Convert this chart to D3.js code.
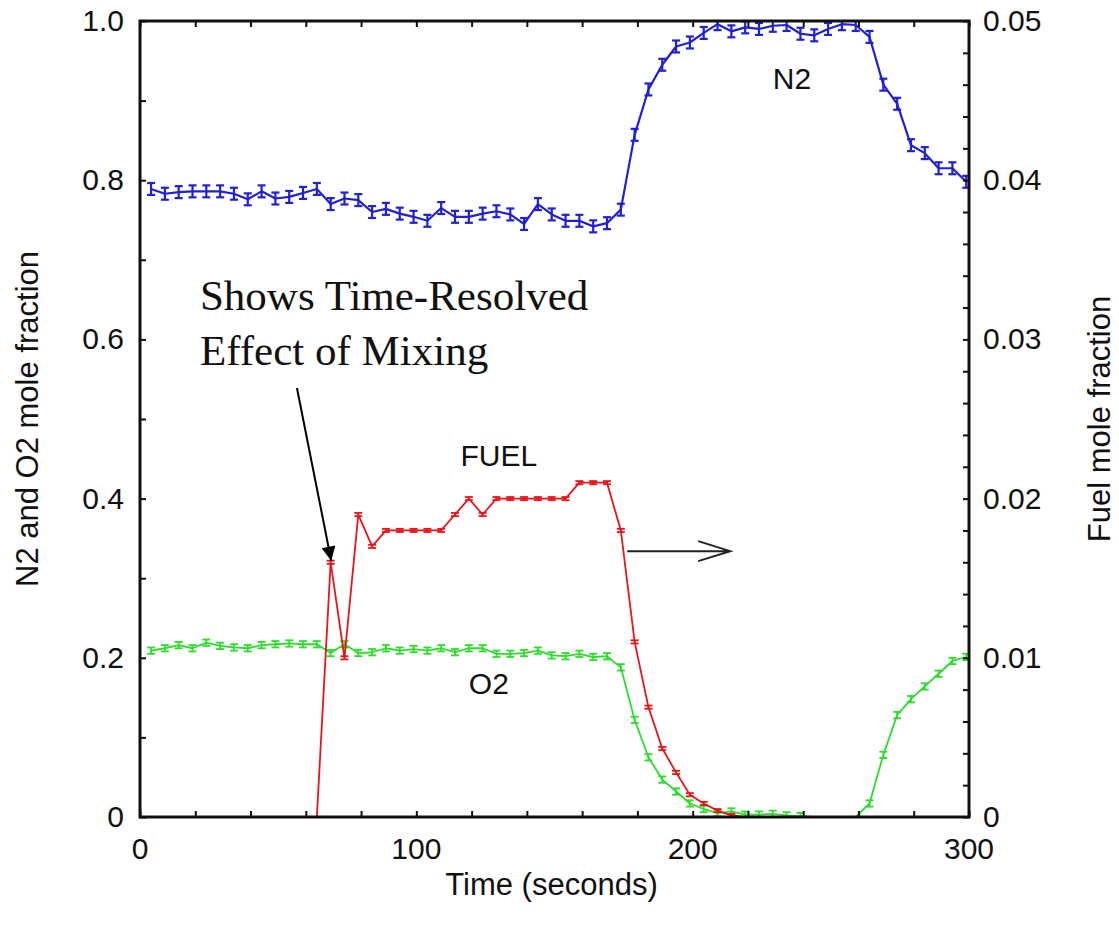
<!DOCTYPE html>
<html>
<head>
<meta charset="utf-8">
<script src="https://cdnjs.cloudflare.com/ajax/libs/d3/7.8.5/d3.min.js"></script>
<style>
    body { margin: 0; background: #fff; }
    svg text { font-family: "Liberation Sans", Arial, sans-serif; fill: #111; }
    .note { font-family: "Liberation Serif", "Times New Roman", serif; }
</style>
</head>
<body>
<svg id="chart" width="1119" height="927"></svg>
<script>
// time of each sample (seconds)
var times = [4, 9, 14, 19, 24, 29, 34, 39, 44, 49, 54, 59, 64, 69, 74, 79, 84, 89, 94, 99,
    104, 109, 114, 119, 124, 129, 134, 139, 144, 149, 154, 159, 164, 169, 174, 179, 184, 189, 194, 199,
    204, 209, 214, 219, 224, 229, 234, 239, 244, 249, 254, 259, 264, 269, 274, 279, 284, 289, 294, 299];

// N2 mole fraction (left axis)
var n2 = [0.789, 0.783, 0.785, 0.786, 0.786, 0.786, 0.783, 0.776, 0.786, 0.777,
    0.779, 0.784, 0.789, 0.770, 0.777, 0.775, 0.760, 0.764, 0.758, 0.754,
    0.749, 0.765, 0.754, 0.754, 0.758, 0.761, 0.757, 0.745, 0.770, 0.757,
    0.749, 0.749, 0.742, 0.746, 0.763, 0.857, 0.914, 0.945, 0.968, 0.973,
    0.985, 0.996, 0.987, 0.992, 0.990, 0.994, 0.995, 0.984, 0.982, 0.990,
    0.996, 0.995, 0.980, 0.920, 0.896, 0.844, 0.834, 0.815, 0.815, 0.798];

// O2 mole fraction (left axis)
var o2 = [0.209, 0.212, 0.216, 0.212, 0.219, 0.215, 0.213, 0.212, 0.216, 0.217,
    0.218, 0.217, 0.217, 0.206, 0.217, 0.206, 0.207, 0.212, 0.209, 0.211,
    0.209, 0.212, 0.207, 0.212, 0.212, 0.205, 0.205, 0.206, 0.209, 0.203,
    0.202, 0.205, 0.201, 0.202, 0.188, 0.122, 0.075, 0.047, 0.032, 0.017,
    0.010, 0.005, 0.007, 0.003, 0.003, 0.004, 0.002, 0.001, 0, 0,
    0, 0, 0.017, 0.078, 0.128, 0.148, 0.164, 0.180, 0.196, 0.201];

// fuel mole fraction (right axis), null where not plotted
var fuel = [null, null, null, null, null, null, null, null, null, null,
    null, null, 0, 0.016, 0.010, 0.019, 0.017, 0.018, 0.018, 0.018,
    0.018, 0.018, 0.019, 0.020, 0.019, 0.020, 0.020, 0.020, 0.020, 0.020,
    0.020, 0.021, 0.021, 0.021, 0.018, 0.011, 0.0069, 0.0043, 0.0028, 0.0014,
    0.00085, 0.0004, 0.0001, 0, null, null, null, null, null, null,
    null, null, null, null, null, null, null, null, null, null];

// half height of the error bars
var n2Err = 0.0075, o2Err = 0.004, fuelErr = 0.0001;

var xTicks = [0, 100, 200, 300];
var leftTicks = [0, 0.2, 0.4, 0.6, 0.8, 1.0];
var rightTicks = [0, 0.01, 0.02, 0.03, 0.04, 0.05];

var svg = d3.select("#chart");
var box = {left: 140, right: 969, top: 21, bottom: 817};

var x = d3.scaleLinear().domain([0, 300]).range([box.left, box.right]);
var yL = d3.scaleLinear().domain([0, 1]).range([box.bottom, box.top]);
var yR = d3.scaleLinear().domain([0, 0.05]).range([box.bottom, box.top]);

var defs = svg.append("defs");
defs.append("clipPath").attr("id", "plotClip")
    .append("rect")
    .attr("x", box.left).attr("y", box.top)
    .attr("width", box.right - box.left).attr("height", box.bottom - box.top);

var plot = svg.append("g").attr("clip-path", "url(#plotClip)");

function drawSeries(values, yScale, err, color, width, capW) {
    var pts = times.map(function(t, i) { return {t: t, v: values[i]}; })
        .filter(function(d) { return d.v != null; });

    var line = d3.line()
        .x(function(d) { return x(d.t); })
        .y(function(d) { return yScale(d.v); });

    plot.append("path").datum(pts)
        .attr("d", line)
        .attr("fill", "none")
        .attr("stroke", color)
        .attr("stroke-width", width)
        .attr("stroke-linejoin", "round");

    // I-beam error bars (points sitting on zero are hidden by the axis)
    var bars = plot.append("g").attr("stroke", color).attr("stroke-width", width)
        .selectAll("g").data(pts.filter(function(d) { return d.v > 0; })).enter().append("g");
    bars.append("line")
        .attr("x1", function(d) { return x(d.t); }).attr("x2", function(d) { return x(d.t); })
        .attr("y1", function(d) { return yScale(d.v - err); })
        .attr("y2", function(d) { return yScale(d.v + err); });
    [-err, err].forEach(function(e) {
        bars.append("line")
            .attr("x1", function(d) { return x(d.t) - capW / 2; })
            .attr("x2", function(d) { return x(d.t) + capW / 2; })
            .attr("y1", function(d) { return yScale(d.v + e); })
            .attr("y2", function(d) { return yScale(d.v + e); });
    });
}

drawSeries(o2, yL, o2Err, "#2ddc2d", 1.8, 8);
drawSeries(fuel, yR, fuelErr, "#e8161c", 1.8, 8);
drawSeries(n2, yL, n2Err, "#2020d8", 2.2, 8);

// axes with inward ticks
function tickFmt(d, digits) { return d === 0 ? "0" : d3.format("." + digits + "f")(d); }

svg.append("g").attr("transform", "translate(0," + box.bottom + ")")
    .call(d3.axisBottom(x).tickValues(d3.range(0, 301, 20)).tickSize(-6).tickFormat(""));
svg.append("g").attr("transform", "translate(0," + box.top + ")")
    .call(d3.axisTop(x).tickValues(d3.range(0, 301, 20)).tickSize(-6).tickFormat(""));
svg.append("g").attr("transform", "translate(" + box.left + ",0)")
    .call(d3.axisLeft(yL).tickValues(d3.range(0, 1.01, 0.1)).tickSize(-6).tickFormat(""));
svg.append("g").attr("transform", "translate(" + box.right + ",0)")
    .call(d3.axisRight(yR).tickValues(d3.range(0, 0.0501, 0.002)).tickSize(-6).tickFormat(""));

svg.selectAll(".domain").remove();
svg.selectAll(".tick line").attr("stroke", "#111").attr("stroke-width", 2);

svg.append("rect")
    .attr("x", box.left).attr("y", box.top)
    .attr("width", box.right - box.left).attr("height", box.bottom - box.top)
    .attr("fill", "none").attr("stroke", "#111").attr("stroke-width", 3);

svg.selectAll(".xlab").data(xTicks).enter().append("text")
    .attr("x", function(d) { return x(d); }).attr("y", box.bottom + 42)
    .attr("text-anchor", "middle").attr("font-size", 30)
    .text(function(d) { return d; });

svg.selectAll(".ylab").data(leftTicks).enter().append("text")
    .attr("x", box.left - 16).attr("y", function(d) { return yL(d) + 10; })
    .attr("text-anchor", "end").attr("font-size", 30)
    .text(function(d) { return tickFmt(d, 1); });

svg.selectAll(".rlab").data(rightTicks).enter().append("text")
    .attr("x", box.right + 14).attr("y", function(d) { return yR(d) + 10; })
    .attr("text-anchor", "start").attr("font-size", 30)
    .text(function(d) { return tickFmt(d, 2); });

// axis titles
svg.append("text").attr("x", (box.left + box.right) / 2 - 3).attr("y", 895)
    .attr("text-anchor", "middle").attr("font-size", 31).text("Time (seconds)");
svg.append("text").attr("transform", "translate(38,419) rotate(-90)")
    .attr("text-anchor", "middle").attr("font-size", 31).text("N2 and O2 mole fraction");
svg.append("text").attr("transform", "translate(1110,419) rotate(-90)")
    .attr("text-anchor", "middle").attr("font-size", 31).text("Fuel mole fraction");

// series labels
svg.append("text").attr("x", x(229)).attr("y", yL(0.915)).attr("font-size", 30).text("N2");
svg.append("text").attr("x", x(116)).attr("y", yL(0.441)).attr("font-size", 30).text("FUEL");
svg.append("text").attr("x", x(119)).attr("y", yL(0.155)).attr("font-size", 30).text("O2");

// annotation
var note = svg.append("text").attr("class", "note").attr("font-size", 43).attr("fill", "#000");
note.append("tspan").attr("x", x(21.7)).attr("y", yL(0.637)).text("Shows Time-Resolved");
note.append("tspan").attr("x", x(21.7)).attr("y", yL(0.568)).text("Effect of Mixing");

defs.append("marker").attr("id", "solidHead")
    .attr("viewBox", "0 0 10 10").attr("refX", 10).attr("refY", 5)
    .attr("markerWidth", 8).attr("markerHeight", 7).attr("markerUnits", "strokeWidth")
    .attr("orient", "auto")
    .append("path").attr("d", "M0,0 L10,5 L0,10 Z").attr("fill", "#000");

svg.append("line")
    .attr("x1", x(56.8)).attr("y1", yL(0.539))
    .attr("x2", x(69.2)).attr("y2", yL(0.322))
    .attr("stroke", "#000").attr("stroke-width", 2)
    .attr("marker-end", "url(#solidHead)");

// open arrow pointing to the right axis
var ay = yL(0.334);
svg.append("path")
    .attr("d", "M" + x(176.3) + "," + ay + "H" + x(213.6) +
        "M" + x(202) + "," + (ay - 10) + "L" + x(213.6) + "," + ay + "L" + x(202) + "," + (ay + 10))
    .attr("fill", "none").attr("stroke", "#222").attr("stroke-width", 2);
</script>
</body>
</html>
